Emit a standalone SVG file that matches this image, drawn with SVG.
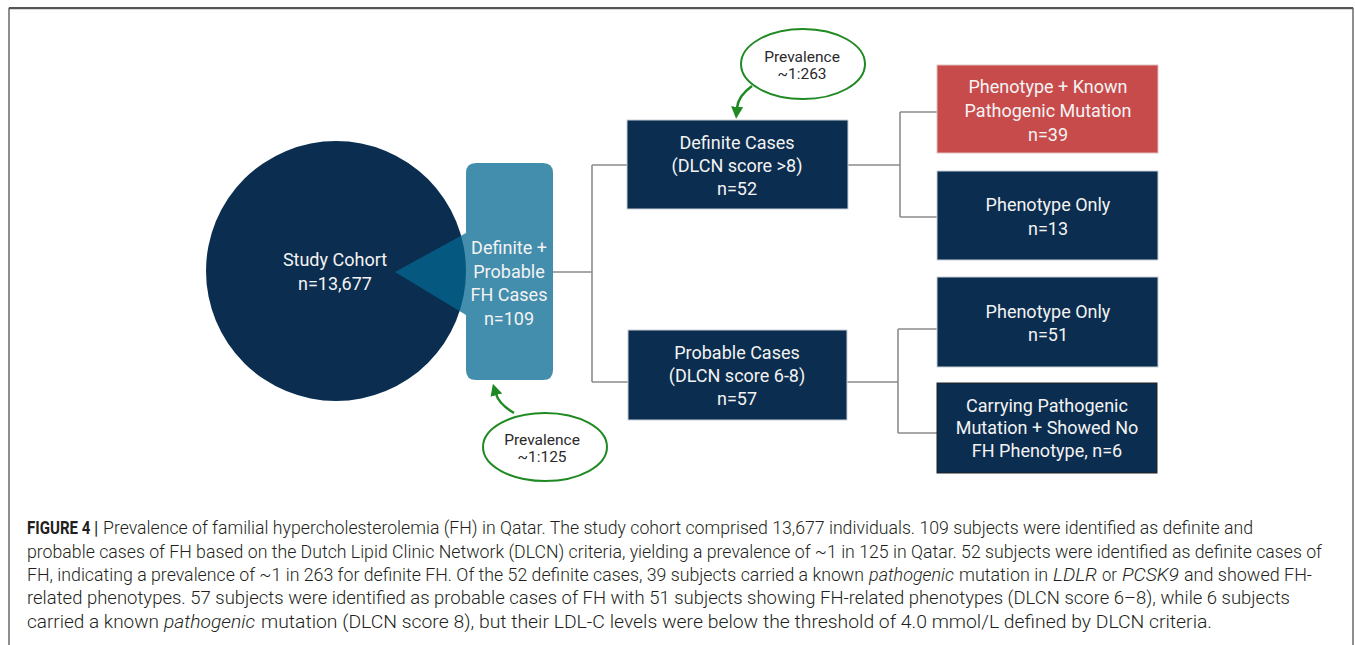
<svg xmlns="http://www.w3.org/2000/svg" width="1355" height="645" viewBox="0 0 1355 645">
<defs>
<style>
.nt{font-family:Roboto,"Liberation Sans",sans-serif;font-size:18px;fill:#f3f3f3;text-anchor:middle;dominant-baseline:central}
.pt{font-family:Roboto,"Liberation Sans",sans-serif;font-size:15.5px;fill:#2a2a2a;text-anchor:middle;dominant-baseline:central}
.box{fill:#0b2d4f;stroke:#c8d0d8;stroke-width:1}
.red{fill:#c84b4c;stroke:#e0c0c0;stroke-width:1}
.conn{fill:none;stroke:#8c8c8c;stroke-width:1.6}
.ell{fill:#fff;stroke:#1f8a22;stroke-width:2}
.arr{fill:none;stroke:#1f8a22;stroke-width:2.5}
.cap{font-family:Roboto,"Liberation Sans",sans-serif;font-weight:300;font-size:17.5px;fill:#231f20}
.it{font-style:italic}
.bd{font-weight:bold}
</style>
<marker id="ah" viewBox="0 0 10 10" refX="1" refY="5" markerWidth="12" markerHeight="12" markerUnits="userSpaceOnUse" orient="auto">
<path d="M0,0 L10,5 L0,10 z" fill="#1f8a22"/>
</marker>
</defs>
<rect width="1355" height="645" fill="#fff"/>
<path d="M9,645 V8.5 H1353 V645" fill="none" stroke="#6a6a6a" stroke-width="1.5"/>
<line x1="9" y1="8" x2="1353" y2="8" stroke="#555" stroke-width="2"/>

<g id="connectors">
<path class="conn" d="M553,272 H592 M592,165 V382 M592,165 H627 M592,382 H628"/>
<path class="conn" d="M848,165 H900 M900,112 V217 M900,112 H937 M900,217 H937"/>
<path class="conn" d="M847,382 H898 M898,329 V433 M898,329 H937 M898,433 H937"/>
<path class="arr" d="M752,86 Q738,96 737,108" marker-end="url(#ah)"/>
<path class="arr" d="M514,413 Q499,404 496,394" marker-end="url(#ah)"/>
</g>

<g id="study-cohort">
<circle cx="336" cy="271" r="130" fill="#0b2d4f"/>
<text class="nt" x="335" y="259">Study Cohort</text>
<text class="nt" x="335" y="283">n=13,677</text>
</g>

<g id="fh-cases">
<path d="M476,163 H543 Q553,163 553,173 V370 Q553,380 543,380 H476 Q466,380 466,370 V315 L395,272 L466,233 V173 Q466,163 476,163 Z" fill="rgb(4,104,146)" fill-opacity="0.75"/>
<text class="nt" x="509" y="247">Definite +</text>
<text class="nt" x="509" y="271">Probable</text>
<text class="nt" x="509" y="294">FH Cases</text>
<text class="nt" x="509" y="318">n=109</text>
</g>

<g id="definite">
<rect class="box" x="627" y="120" width="221" height="89"/>
<text class="nt" x="737" y="142">Definite Cases</text>
<text class="nt" x="737" y="165">(DLCN score &gt;8)</text>
<text class="nt" x="737" y="188">n=52</text>
</g>

<g id="probable">
<rect class="box" x="628" y="330" width="219" height="90"/>
<text class="nt" x="737" y="352">Probable Cases</text>
<text class="nt" x="737" y="375">(DLCN score 6-8)</text>
<text class="nt" x="737" y="398">n=57</text>
</g>

<g id="known-mutation">
<rect class="red" x="937" y="65" width="221" height="88"/>
<text class="nt" x="1048" y="86">Phenotype + Known</text>
<text class="nt" x="1048" y="110">Pathogenic Mutation</text>
<text class="nt" x="1048" y="134">n=39</text>
</g>

<g id="phenotype-13">
<rect class="box" x="937" y="171" width="221" height="89"/>
<text class="nt" x="1048" y="204">Phenotype Only</text>
<text class="nt" x="1048" y="228">n=13</text>
</g>

<g id="phenotype-51">
<rect class="box" x="937" y="277" width="221" height="90"/>
<text class="nt" x="1048" y="311">Phenotype Only</text>
<text class="nt" x="1048" y="334">n=51</text>
</g>

<g id="carrying">
<rect class="box" x="937" y="383" width="220" height="90" style="stroke:#222"/>
<text class="nt" x="1047" y="405">Carrying Pathogenic</text>
<text class="nt" x="1047" y="427">Mutation + Showed No</text>
<text class="nt" x="1047" y="450">FH Phenotype, n=6</text>
</g>

<g id="prevalence-263">
<ellipse class="ell" cx="803" cy="64" rx="62" ry="35"/>
<text class="pt" x="802" y="57">Prevalence</text>
<text class="pt" x="802" y="74">~1:263</text>
</g>

<g id="prevalence-125">
<ellipse class="ell" cx="545" cy="447" rx="62" ry="34"/>
<text class="pt" x="542" y="440">Prevalence</text>
<text class="pt" x="542" y="457">~1:125</text>
</g>

<g id="caption">
<text class="cap bd" x="27" y="534" textLength="71" lengthAdjust="spacingAndGlyphs">FIGURE 4 |</text>
<text class="cap" x="103" y="534" textLength="1150" lengthAdjust="spacingAndGlyphs">Prevalence of familial hypercholesterolemia (FH) in Qatar. The study cohort comprised 13,677 individuals. 109 subjects were identified as definite and</text>
<text class="cap" x="27" y="558" textLength="1295" lengthAdjust="spacingAndGlyphs">probable cases of FH based on the Dutch Lipid Clinic Network (DLCN) criteria, yielding a prevalence of ~1 in 125 in Qatar. 52 subjects were identified as definite cases of</text>
<text class="cap" x="27" y="581" textLength="837" lengthAdjust="spacingAndGlyphs">FH, indicating a prevalence of ~1 in 263 for definite FH. Of the 52 definite cases, 39 subjects carried a known</text>
<text class="cap it" x="869" y="581" textLength="85" lengthAdjust="spacingAndGlyphs">pathogenic</text>
<text class="cap" x="959" y="581" textLength="89" lengthAdjust="spacingAndGlyphs">mutation in</text>
<text class="cap it" x="1053" y="581" textLength="44" lengthAdjust="spacingAndGlyphs">LDLR</text>
<text class="cap" x="1102" y="581" textLength="15" lengthAdjust="spacingAndGlyphs">or</text>
<text class="cap it" x="1122" y="581" textLength="57" lengthAdjust="spacingAndGlyphs">PCSK9</text>
<text class="cap" x="1184" y="581" textLength="128" lengthAdjust="spacingAndGlyphs">and showed FH-</text>
<text class="cap" x="27" y="604" textLength="1263" lengthAdjust="spacingAndGlyphs">related phenotypes. 57 subjects were identified as probable cases of FH with 51 subjects showing FH-related phenotypes (DLCN score 6–8), while 6 subjects</text>
<text class="cap" x="27" y="628" textLength="132" lengthAdjust="spacingAndGlyphs">carried a known</text>
<text class="cap it" x="164" y="628" textLength="91" lengthAdjust="spacingAndGlyphs">pathogenic</text>
<text class="cap" x="261" y="628" textLength="951" lengthAdjust="spacingAndGlyphs">mutation (DLCN score 8), but their LDL-C levels were below the threshold of 4.0 mmol/L defined by DLCN criteria.</text>
</g>
</svg>
